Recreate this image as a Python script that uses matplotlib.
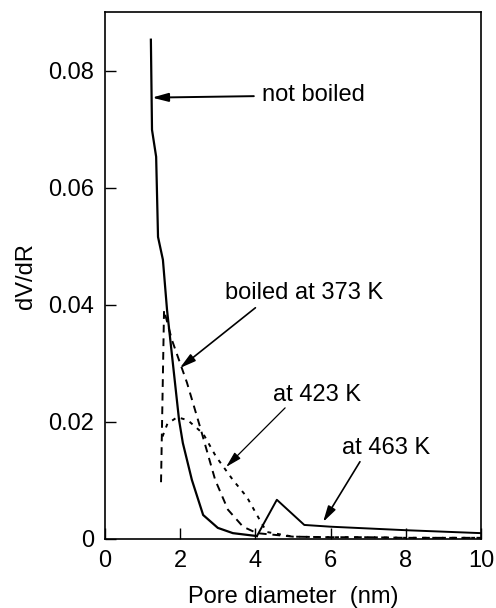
import matplotlib.pyplot as plt
from matplotlib.ticker import FuncFormatter

plt.rcParams['font.family'] = ['Liberation Sans', 'DejaVu Sans']

# pore size distributions (dV/dR vs pore diameter in nm)
x_not_boiled = [1.22, 1.25, 1.36, 1.41, 1.54, 1.65, 1.97, 2.07, 2.31, 2.61, 3.0, 3.4, 4.04]
y_not_boiled = [0.0853, 0.0699, 0.0653, 0.0516, 0.0477, 0.0391, 0.0203, 0.0164, 0.0101, 0.0041, 0.0019, 0.0010, 0.0005]

x_373 = [1.49, 1.57, 1.78, 2.18, 2.53, 2.93, 3.27, 3.67, 4.04, 5.0, 6.0, 7.0, 8.0, 9.0, 10.0]
y_373 = [0.0097, 0.0391, 0.0340, 0.0267, 0.0191, 0.0101, 0.0050, 0.0021, 0.0010, 0.0004, 0.0003, 0.0003, 0.0002, 0.0002, 0.0002]

x_423 = [1.53, 1.66, 1.92, 2.2, 2.61, 2.95, 3.4, 3.77, 4.12, 4.3, 5.0, 6.0, 7.0, 8.0, 9.0, 10.0]
y_423 = [0.0175, 0.0197, 0.0208, 0.0203, 0.0180, 0.0141, 0.0101, 0.0072, 0.0032, 0.0012, 0.0004, 0.0003, 0.0003, 0.0002, 0.0002, 0.0002]

x_463 = [4.04, 4.57, 5.3, 6.0, 8.0, 10.0]
y_463 = [0.0005, 0.0067, 0.0024, 0.0021, 0.0015, 0.0010]

FS = 17
HEAD = '-|>,head_length=0.6,head_width=0.16'

fig = plt.figure(figsize=(4.96, 6.08), dpi=100)
ax = fig.add_axes([0.2117, 0.1135, 0.7581, 0.8665])

ax.plot(x_not_boiled, y_not_boiled, color='black', lw=1.6)
ax.plot(x_373, y_373, color='black', lw=1.4, ls=(0, (4, 3)))
ax.plot(x_423, y_423, color='black', lw=1.4, ls=(0, (2, 3)))
ax.plot(x_463, y_463, color='black', lw=1.4)

ax.set_xlim(0, 10)
ax.set_ylim(0, 0.09)
ax.set_xticks([0, 2, 4, 6, 8, 10])
ax.set_yticks([0, 0.02, 0.04, 0.06, 0.08])
ax.yaxis.set_major_formatter(FuncFormatter(lambda v, p: '0' if v == 0 else '%.2f' % v))
ax.tick_params(direction='in', length=8, width=1, labelsize=FS, pad=8)
for s in ax.spines.values():
    s.set_linewidth(1.2)

ax.set_xlabel('Pore diameter  (nm)', fontsize=FS, labelpad=10)
ax.set_ylabel('dV/dR', fontsize=FS, labelpad=8)

# labels with arrows
ax.annotate('not boiled', xy=(1.25, 0.0754), xytext=(4.18, 0.0758),
            fontsize=FS, va='center', ha='left',
            arrowprops=dict(arrowstyle=HEAD, color='black', lw=1.4,
                            mutation_scale=16, shrinkA=4, shrinkB=0))
ax.text(5.3, 0.0421, 'boiled at 373 K', fontsize=FS, ha='center', va='center')
ax.annotate('', xy=(1.99, 0.0292), xytext=(4.0, 0.0395),
            arrowprops=dict(arrowstyle=HEAD, color='black', lw=1.2,
                            mutation_scale=16, shrinkA=0, shrinkB=0))
ax.text(5.65, 0.0246, 'at 423 K', fontsize=FS, ha='center', va='center')
ax.annotate('', xy=(3.22, 0.0123), xytext=(4.79, 0.0224),
            arrowprops=dict(arrowstyle=HEAD, color='black', lw=0.9,
                            mutation_scale=16, shrinkA=0, shrinkB=0))
ax.text(7.47, 0.0156, 'at 463 K', fontsize=FS, ha='center', va='center')
ax.annotate('', xy=(5.8, 0.0029), xytext=(6.78, 0.0132),
            arrowprops=dict(arrowstyle=HEAD, color='black', lw=1.2,
                            mutation_scale=16, shrinkA=0, shrinkB=0))

fig.savefig('out.png', dpi=100)
